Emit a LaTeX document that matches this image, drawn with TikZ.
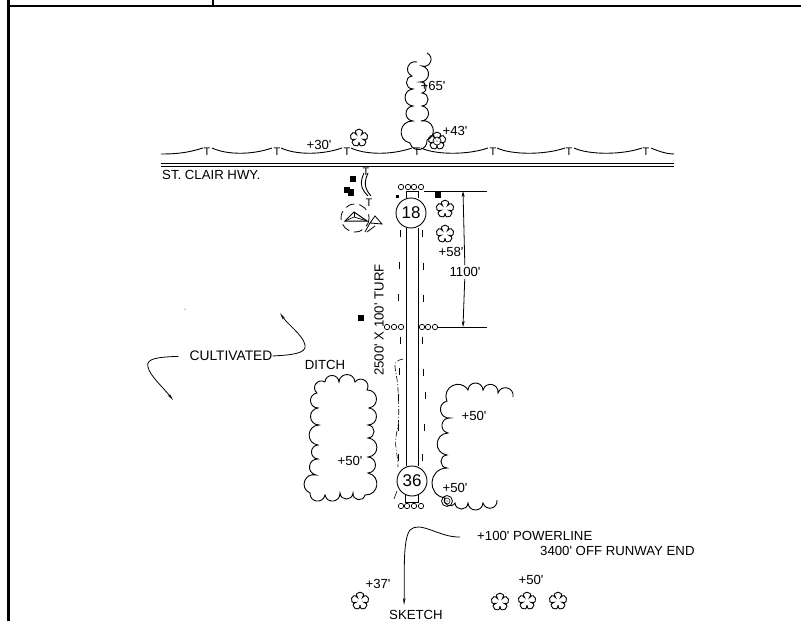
\documentclass[tikz,border=0pt]{standalone}
\usepackage{fontspec}
\setmainfont{Liberation Sans}[Ligatures=TeXOff]
\usetikzlibrary{arrows.meta}
\tikzset{
	bump/.style={bend right=85,looseness=1.6},
	lobe/.style={bend right=125,looseness=4.6},
	pics/flower/.style={code={
		\draw [line width=0.9] (90:4.2) to[lobe] (18:4.2) to[lobe] (-54:4.2) to[lobe] (-126:4.2) to[lobe] (-198:4.2) to[lobe] (-270:4.2);
	}}
}
\begin{document}
\begin{tikzpicture}
			[x=1pt,y=-1pt,every node/.style={inner sep=0pt,font=\fontsize{13.2}{15}\selectfont},
			tree/.style={line width=0.9},
			hole/.style={circle,minimum size=5.4pt,line width=0.7,draw=black},
			edgemark/.style={line width=0.8},
			curved/.style={line width=0.8,-{Stealth[length=7pt,width=2.6pt]}},
			tick/.style={font=\fontsize{11}{12}\selectfont}]
			\useasboundingbox (0,0) rectangle (801,621);
			% frame
			\draw [line width=3] (8,0) -- (8,621);
			\draw [line width=2] (8,6) -- (801,6);
			\draw [line width=1.5] (213,0) -- (213,6);
			% road
			\draw [line width=1] (161,163) -- (674,163);
			\draw [line width=1] (161,166) -- (674,166);
			\node (hwy) [anchor=west] at (162,175) {ST. CLAIR HWY.};
			% poles
			\foreach \x in {207,277,347,417,493,569,646}
				\node [tick] at (\x,152) {T};
			\draw [line width=0.9] (161,154) .. controls (180,154) and (190,152) .. (203,148);
			\foreach \xa/\xb in {212/272,281/342,351/412,421/488,497/565,574/642}
				\draw [line width=0.9] (\xa,148) .. controls (\xa+15,155) and (\xb-20,155) .. (\xb,148);
			\draw [line width=0.9] (651,148) .. controls (660,152) and (668,154) .. (674,154);
			% tall trees
			\draw [tree] (417,62) to[bump] (412,76) to[bump] (413,89) to[bump] (413,106) to[bump] (413,121) to[bump] (410,143) to[bump] (427,140) to[bump] (421,121) to[bump] (422,106) to[bump] (422,93) to[bump] (420,82) to[bump] (422,66) to[bump] (427,53);
			\draw [tree] (513,397) to[bump] (498,393) to[bump] (483,390) to[bump] (468,390) to[bump] (447,401) to[bump] (450,418) to[bump] (448,433) to[bump] (447,455) to[bump] (447,468) to[bump] (445,498) to[bump] (455,503) to[bump] (468,503) to[bump] (483,503) to[bump] (497,500);
			\draw [tree] (325,382) to[bump] (317,393) to[bump] (318,408) to[bump] (319,425) to[bump] (318,445) to[bump] (318,459) to[bump] (316,475) to[bump] (310,493) to[bump] (325,495) to[bump] (340,493) to[bump] (353,493) to[bump] (365,495) to[bump] (368,473) to[bump] (368,457) to[bump] (368,438) to[bump] (368,425) to[bump] (369,408) to[bump] (367,390) to[bump] (355,382) to[bump] (339,382) to[bump] (325,382);
			% single trees
			\pic at (359,138) {flower};
			\pic at (437,141) {flower};
			\pic at (445,209) {flower};
			\pic at (445,234) {flower};
			\pic at (360,601) {flower};
			\pic at (500,602) {flower};
			\pic at (527,601) {flower};
			\pic at (558,601) {flower};
			\draw [line width=0.7] (437,141) circle (4);
			\fill (437,141) circle (0.7);
			\draw [line width=0.8] (447,501) circle (5.5);
			\draw [line width=0.6] (447,501) circle (3);
			\fill (447,501) circle (0.6);
			% runway
			\node (rwy18) [circle, minimum size=30pt, line width=0.9, draw=black, font=\fontsize{17}{19}\selectfont] at (411,213) {18};
			\node (rwy36) [circle, minimum size=30pt, line width=0.9, draw=black, font=\fontsize{17}{19}\selectfont] at (412,481) {36};
			\draw [line width=1] (406,228) -- (406,466);
			\draw [line width=1] (418,228) -- (418,466);
			\draw [line width=0.9] (406,198) -- (406,191) -- (418,191) -- (418,198);
			\draw [line width=0.9] (405,495) -- (405,502) -- (418,502) -- (418,495);
			\foreach \x in {401,408,414,421}
				\node [hole] at (\x,187) {};
			\foreach \x in {401,407,414,421}
				\node [hole] at (\x,506) {};
			\foreach \x in {387,394,401,422,428,435}
				\node [hole] at (\x,327) {};
			\foreach \x/\y in {400/233,399/265,398/297,400/340,399/371,398/397,398/427,398/457,422/233,423/266,423/298,422/340,423/372,425/395,424/427,422/457}
				\draw [edgemark] (\x,\y-3.5) -- (\x,\y+3.5);
			% ditch
			\draw [line width=0.6, dash pattern=on 6pt off 2pt on 1pt off 2pt] (403,359) .. controls (397,360) and (394,363) .. (395,367) .. controls (396,375) and (398,382) .. (398,390) .. controls (399,405) and (399,420) .. (398,427) .. controls (396,435) and (395,440) .. (396,448) .. controls (397,455) and (398,462) .. (398,467);
			\draw [line width=0.6] (397,491) -- (394,499);
			% buildings
			\fill (350,176) rectangle (356,182);
			\fill (344,187) rectangle (350,193);
			\fill (348,189) rectangle (354,196);
			\fill (435,192) rectangle (441,198);
			\fill (395.5,195) rectangle (398.5,198);
			\fill (358,315) rectangle (364,321);
			\fill (185,309) circle (0.5);
			% tee and tetrahedron
			\node [tick] at (366,172) {T};
			\node [tick] at (369,203) {T};
			\draw [line width=0.9] (364,173) .. controls (360,182) and (360,188) .. (368,196);
			\draw [line width=0.9] (368,173) .. controls (364,182) and (364,188) .. (371,196);
			\draw [line width=0.8, dash pattern=on 9pt off 5pt] (355,218) circle (14);
			\draw [line width=1] (345,221) -- (354,212) -- (367,221) -- cycle;
			\draw [line width=0.7] (345,221) -- (354,217) -- (367,221);
			\draw [line width=0.7] (354,212) -- (354,217);
			\draw [line width=0.8] (370,223) -- (375,216) -- (382,224) -- cycle;
			\draw [line width=0.8] (370,223) -- (365,232);
			\draw [line width=0.8] (375,226) -- (367,232);
			% dimension
			\coordinate (dimtop) at (463,191);
			\coordinate (dimbot) at (463,327);
			\node (len) [fill=white, inner ysep=2pt] at (465,272) {1100'};
			\draw [line width=0.9] (424,191) -- (487,191);
			\draw [line width=0.9] (437,327) -- (487,327);
			\draw [line width=0.8, -{Stealth[length=6pt,width=3pt]}] (len) -- (dimtop);
			\draw [line width=0.8, -{Stealth[length=6pt,width=3pt]}] (len) -- (dimbot);
			% labels
			\node (h65) at (433,86) {+65'};
			\node (h43) at (455,131) {+43'};
			\node (h30) at (319,145) {+30'};
			\node (h58) at (451,252) {+58'};
			\node (turf) [rotate=90] at (379,320) {2500' X 100' TURF};
			\node (ditch) at (325,365) {DITCH};
			\node (cult) [font=\fontsize{13.8}{15}\selectfont] at (231,356) {CULTIVATED};
			\node (h50a) at (350,461) {+50'};
			\node (h50b) at (474,416) {+50'};
			\node (h50c) at (455,488) {+50'};
			\node (h50d) at (531,580) {+50'};
			\node (h37) at (378,584) {+37'};
			\node (sketch) at (416,615) {SKETCH};
			\node (pwr) [anchor=west] at (477,536) {+100' POWERLINE};
			\node (off) [anchor=west] at (540,551) {3400' OFF RUNWAY END};
			% curved arrows
			\coordinate (cultl) at (173,400);
			\coordinate (cultr) at (280,313);
			\coordinate (skt) at (404,605);
			\draw [curved, shorten <=11pt] (cult.west) .. controls (160,357) and (145,358) .. (148,367) .. controls (150,376) and (162,386) .. (cultl);
			\draw [curved] (cult.east) .. controls (290,355) and (307,354) .. (305,345) .. controls (303,335) and (288,325) .. (cultr);
			\draw [curved, shorten <=17pt] (pwr.west) .. controls (440,538) and (420,520) .. (410,530) .. controls (402,540) and (405,580) .. (skt);
	\end{tikzpicture}
\end{document}
